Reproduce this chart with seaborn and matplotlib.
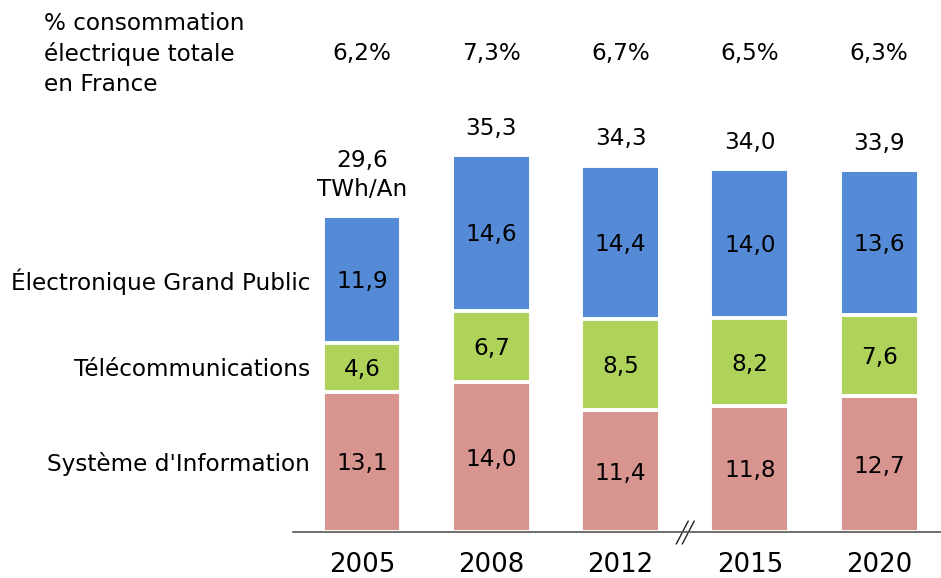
import matplotlib
matplotlib.use('Agg')
import matplotlib.pyplot as plt
import seaborn as sns
import pandas as pd
import numpy as np

years = ['2005', '2008', '2012', '2015', '2020']
systeme_info = [13.1, 14.0, 11.4, 11.8, 12.7]
telecom = [4.6, 6.7, 8.5, 8.2, 7.6]
electronique = [11.9, 14.6, 14.4, 14.0, 13.6]
total_labels = ['29,6\nTWh/An', '35,3', '34,3', '34,0', '33,9']
pct_labels = ['6,2%', '7,3%', '6,7%', '6,5%', '6,3%']
categories = ["Système d'Information", 'Télécommunications', 'Électronique Grand Public']
colors = ['#D8948F', '#AFD35A', '#558BD6']
pct_title = '% consommation\nélectrique totale\nen France'

sns.set_style('white')
plt.rcParams['font.family'] = ['DejaVu Sans']
plt.rcParams['text.color'] = 'black'
plt.rcParams['xtick.color'] = 'black'

df = pd.DataFrame({'year': years, 'si': systeme_info, 'tel': telecom, 'egp': electronique})
df['c1'] = df['si']
df['c2'] = df['si'] + df['tel']
df['c3'] = df['c2'] + df['egp']

fig = plt.figure(figsize=(9.41, 5.78), dpi=100)
ax = fig.add_axes([293 / 941, 46 / 578, 648 / 941, 532 / 578])

for col, c in zip(['c3', 'c2', 'c1'], colors[::-1]):
    sns.barplot(data=df, x='year', y=col, order=years, color=c, saturation=1,
                width=0.61, edgecolor='white', linewidth=2.8, ax=ax)

ax.set_xlim(-0.534, 4.478)
ax.set_ylim(0, 49.8)
ax.set_xlabel('')
ax.set_ylabel('')
ax.set_yticks([])
ax.set_xticks(range(len(years)))
ax.set_xticklabels(years, fontsize=18.7, color='black')
ax.tick_params(axis='x', length=0, pad=14.5)
for s in ['top', 'left', 'right']:
    ax.spines[s].set_visible(False)
ax.spines['bottom'].set_color('#555555')
ax.spines['bottom'].set_linewidth(1.2)

fs = 16.7
nudge = (0, -1.4)
for i in range(len(years)):
    segs = [systeme_info[i], telecom[i], electronique[i]]
    base = 0
    for v in segs:
        ax.annotate(f'{v:.1f}'.replace('.', ','), (i, base + v / 2), xytext=nudge,
                    textcoords='offset points', ha='center', va='center',
                    fontsize=fs, color='black')
        base += v
    ax.annotate(total_labels[i], (i, base), xytext=(0, 11), textcoords='offset points',
                ha='center', va='bottom', fontsize=fs, linespacing=1.3, color='black')
    ax.annotate(pct_labels[i], (i, 44.95), xytext=nudge, textcoords='offset points',
                ha='center', va='center', fontsize=fs, color='black')

# category labels aligned with first bar segments
mids = [systeme_info[0] / 2, systeme_info[0] + telecom[0] / 2,
        systeme_info[0] + telecom[0] + electronique[0] / 2]
for lab, y in zip(categories, mids):
    ax.annotate(lab, (-0.40, y), xytext=nudge, textcoords='offset points',
                ha='right', va='center', fontsize=fs, annotation_clip=False, color='black')

fig.text(44 / 941, 1 - 54 / 578, pct_title, ha='left', va='center', fontsize=fs,
         linespacing=1.37, color='black')

# axis break marks
pxx = 1 / 129.3
pxy = 1 / 10.68
for off in (-3, 3):
    xc = 2.5 + off * pxx
    ax.plot([xc - 6 * pxx, xc + 6 * pxx], [-12 * pxy, 11 * pxy], color='#222222',
            lw=1.0, clip_on=False)

fig.savefig('out.png', dpi=100)
